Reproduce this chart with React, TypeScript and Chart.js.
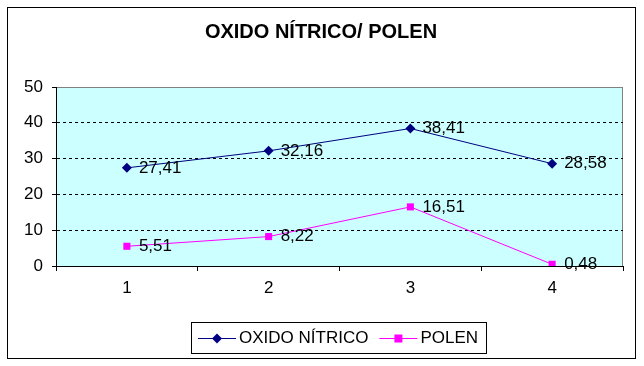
import React, { useEffect, useRef } from "react";
import { Chart, registerables } from "chart.js";

Chart.register(...registerables);

const categories = ["1", "2", "3", "4"];
const oxidoNitrico = [27.41, 32.16, 38.41, 28.58];
const polen = [5.51, 8.22, 16.51, 0.48];
const seriesNames = ["OXIDO NÍTRICO", "POLEN"];
const titleText = "OXIDO NÍTRICO/ POLEN";
const yTicks = [0, 10, 20, 30, 40, 50];

const FONT = "Arial, 'Liberation Sans', sans-serif";

const fmt = (v: number) => v.toFixed(2).replace(".", ",");

function drawMarker(ctx: CanvasRenderingContext2D, style: string, x: number, y: number, color: string) {
  ctx.save();
  ctx.fillStyle = color;
  ctx.beginPath();
  if (style === "rectRot") {
    const r = 5;
    ctx.moveTo(x, y - r);
    ctx.lineTo(x + r, y);
    ctx.lineTo(x, y + r);
    ctx.lineTo(x - r, y);
    ctx.closePath();
  } else {
    ctx.rect(x - 4, y - 4, 8, 8);
  }
  ctx.fill();
  ctx.restore();
}

const decorPlugin = {
  id: "decor",
  beforeDraw(chart: any) {
    const { ctx, chartArea: a } = chart;
    ctx.save();
    ctx.fillStyle = "#ffffff";
    ctx.fillRect(0, 0, chart.width, chart.height);
    ctx.strokeStyle = "#000000";
    ctx.lineWidth = 1;
    ctx.strokeRect(7.5, 7.5, 628, 351);
    ctx.fillStyle = "#CCFFFF";
    ctx.fillRect(a.left, a.top, a.right - a.left, a.bottom - a.top);
    ctx.strokeStyle = "#808080";
    ctx.strokeRect(a.left + 0.5, a.top + 0.5, a.right - a.left - 1, a.bottom - a.top);
    ctx.fillStyle = "#000000";
    ctx.font = `bold 20px ${FONT}`;
    ctx.textAlign = "center";
    ctx.textBaseline = "middle";
    ctx.fillText(titleText, 321, 32);
    ctx.restore();
  },
  afterDatasetsDraw(chart: any) {
    const { ctx } = chart;
    ctx.save();
    ctx.fillStyle = "#000000";
    ctx.font = `17px ${FONT}`;
    ctx.textAlign = "left";
    ctx.textBaseline = "middle";
    chart.data.datasets.forEach((ds: any, i: number) => {
      const meta = chart.getDatasetMeta(i);
      meta.data.forEach((pt: any, j: number) => {
        ctx.fillText(fmt(ds.data[j]), pt.x + 12, pt.y);
      });
    });
    ctx.restore();
  },
  afterDraw(chart: any) {
    const { ctx } = chart;
    ctx.save();
    ctx.font = `17px ${FONT}`;
    const sample = 38;
    const items = chart.data.datasets.map((ds: any) => ({
      label: ds.label,
      color: ds.borderColor,
      style: ds.pointStyle,
      w: ctx.measureText(ds.label).width,
    }));
    let total = 7;
    items.forEach((it: any, i: number) => {
      total += sample + 3 + it.w + (i < items.length - 1 ? 11 : 0);
    });
    total += 8;
    const boxLeft = Math.round(339 - total / 2);
    const boxTop = 322;
    const boxH = 31;
    ctx.strokeStyle = "#000000";
    ctx.lineWidth = 1;
    ctx.strokeRect(boxLeft + 0.5, boxTop + 0.5, Math.round(total), boxH);
    const cy = boxTop + boxH / 2 + 0.5;
    let x = boxLeft + 7;
    items.forEach((it: any) => {
      ctx.strokeStyle = it.color;
      ctx.beginPath();
      ctx.moveTo(x, Math.floor(cy) + 0.5);
      ctx.lineTo(x + sample, Math.floor(cy) + 0.5);
      ctx.stroke();
      drawMarker(ctx, it.style, x + sample / 2, Math.floor(cy) + 0.5, it.color);
      x += sample + 3;
      ctx.fillStyle = "#000000";
      ctx.textAlign = "left";
      ctx.textBaseline = "middle";
      ctx.fillText(it.label, x, cy);
      x += it.w + 11;
    });
    ctx.restore();
  },
};

export default function App() {
  const ref = useRef<HTMLCanvasElement>(null);
  useEffect(() => {
    document.body.style.margin = "0";
    if (!ref.current) return;
    const chart = new Chart(ref.current, {
      type: "line",
      data: {
        labels: categories,
        datasets: [
          {
            label: seriesNames[0],
            data: oxidoNitrico,
            borderColor: "#000080",
            backgroundColor: "#000080",
            borderWidth: 1,
            pointStyle: "rectRot",
            pointRadius: 5,
            pointBorderWidth: 0,
            tension: 0,
          },
          {
            label: seriesNames[1],
            data: polen,
            borderColor: "#FF00FF",
            backgroundColor: "#FF00FF",
            borderWidth: 1,
            pointStyle: "rect",
            pointRadius: 5,
            pointBorderWidth: 0,
            tension: 0,
          },
        ],
      },
      options: {
        responsive: false,
        animation: false,
        events: [],
        layout: { padding: { left: 0, top: 87, right: 21, bottom: 0 } },
        plugins: {
          legend: { display: false },
          title: { display: false },
          tooltip: { enabled: false },
        },
        scales: {
          x: {
            type: "category",
            offset: true,
            grid: {
              offset: true,
              drawOnChartArea: false,
              drawTicks: true,
              tickLength: 5,
              tickColor: "#000000",
              color: "#000000",
            },
            border: { display: true, color: "#000000", width: 1 },
            ticks: {
              color: "#000000",
              font: { family: FONT, size: 17 },
              padding: 7,
              maxRotation: 0,
            },
            afterFit: (s: any) => {
              s.height = 100;
            },
          },
          y: {
            min: 0,
            max: 50,
            afterBuildTicks: (s: any) => {
              s.ticks = yTicks.map((v) => ({ value: v }));
            },
            grid: {
              color: (c: any) => (c.tick && c.tick.value > 0 && c.tick.value < 50 ? "#000000" : "rgba(0,0,0,0)"),
              tickColor: "#000000",
              tickLength: 4,
              tickBorderDash: [],
              lineWidth: 1,
            },
            border: { display: true, color: "#000000", width: 1, dash: [3, 3] },
            ticks: {
              color: "#000000",
              font: { family: FONT, size: 17 },
              padding: 9,
            },
            afterFit: (s: any) => {
              s.width = 56;
            },
          },
        },
      },
      plugins: [decorPlugin],
    });
    return () => chart.destroy();
  }, []);
  return (
    <div style={{ position: "absolute", left: 0, top: 0, width: 644, height: 366 }}>
      <canvas ref={ref} width={644} height={366} />
    </div>
  );
}
